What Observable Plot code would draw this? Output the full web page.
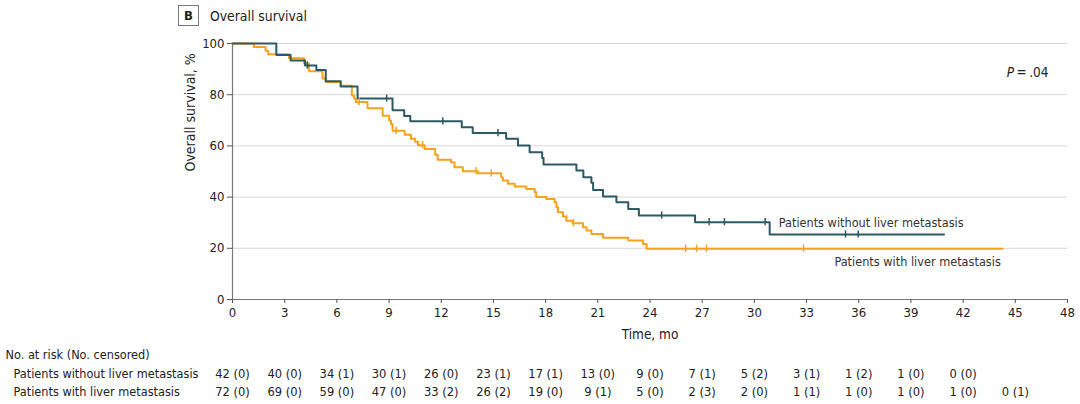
<!DOCTYPE html>
<html><head><meta charset="utf-8">
<script src="https://cdn.jsdelivr.net/npm/d3@7"></script>
<script src="https://cdn.jsdelivr.net/npm/@observablehq/plot@0.6"></script>
<style>
body{margin:0;background:#fff;}
#wrap{position:relative;width:1080px;height:404px;font-family:"DejaVu Sans Condensed","DejaVu Sans",sans-serif;color:#222;}
#title{position:absolute;left:178px;top:5px;display:flex;align-items:center;font-size:13.8px;}
#title .box{display:inline-block;width:19px;height:19px;border:1.5px solid #777;text-align:center;line-height:19px;font-weight:bold;font-size:13px;margin-right:11px;}
#chart{position:absolute;left:0;top:0;}
</style></head><body>
<div id="wrap"><div id="chart"></div><div id="title"><span class="box">B</span><span>Overall survival</span></div></div>
<script>
// Patients without liver metastasis (step times in months, survival %)
const withoutT = [0, 2.52, 3.34, 4.17, 4.82, 5.36, 6.22, 7.19, 9.20, 9.87, 10.22, 13.18, 13.81, 15.73, 16.41, 17.08, 17.80, 17.88, 19.77, 20.17, 20.63, 20.73, 21.30, 22.07, 22.75, 23.36, 26.59, 30.88];
const withoutS = [100, 95.5, 93.4, 91.4, 89.6, 85.3, 83.2, 78.5, 73.9, 71.7, 69.6, 67.3, 65.0, 62.8, 60.2, 57.5, 55.3, 52.7, 50.4, 47.8, 45.6, 42.8, 40.2, 38.0, 35.4, 32.8, 30.2, 25.4];
const withoutEnd = 40.9;
const withoutCens = [4.30, 8.86, 12.09, 15.26, 24.67, 27.40, 28.28, 30.62, 35.24, 35.97];

// Patients with liver metastasis
const withT = [0, 1.23, 1.90, 2.05, 3.25, 4.11, 4.40, 5.17, 5.36, 6.22, 6.86, 6.99, 7.09, 7.76, 8.63, 9.01, 9.11, 9.20, 9.90, 10.26, 10.50, 10.66, 11.05, 11.65, 11.79, 12.56, 12.76, 13.24, 14.10, 15.45, 15.54, 15.83, 16.22, 16.89, 17.37, 17.46, 18.04, 18.52, 18.62, 18.71, 19.00, 19.19, 19.55, 20.15, 20.35, 20.63, 21.30, 22.75, 23.60, 23.80];
const withS = [100, 98.6, 97.2, 95.8, 94.2, 92.2, 89.2, 86.3, 85.0, 83.5, 79.7, 78.4, 77.1, 74.7, 71.8, 69.9, 68.6, 65.9, 64.4, 62.8, 61.6, 60.3, 58.8, 56.5, 54.6, 53.6, 51.7, 50.1, 49.3, 47.8, 46.5, 45.2, 44.1, 43.2, 41.9, 40.0, 39.3, 38.0, 36.0, 34.1, 32.4, 30.8, 29.8, 28.2, 27.0, 25.6, 24.1, 23.0, 21.7, 19.8];
const withEnd = 44.27;
const withCens = [7.28, 9.40, 10.93, 14.00, 14.87, 19.60, 26.05, 26.68, 27.25, 32.83];

// Axis ticks
const xTicks = [0, 3, 6, 9, 12, 15, 18, 21, 24, 27, 30, 33, 36, 39, 42, 45, 48];
const yTicks = [0, 20, 40, 60, 80, 100];

// Risk table
const riskGroups = ["Patients without liver metastasis", "Patients with liver metastasis"];
const riskTimesWithout = [0, 3, 6, 9, 12, 15, 18, 21, 24, 27, 30, 33, 36, 39, 42];
const riskWithout = ["42 (0)", "40 (0)", "34 (1)", "30 (1)", "26 (0)", "23 (1)", "17 (1)", "13 (0)", "9 (0)", "7 (1)", "5 (2)", "3 (1)", "1 (2)", "1 (0)", "0 (0)"];
const riskTimesWith = [0, 3, 6, 9, 12, 15, 18, 21, 24, 27, 30, 33, 36, 39, 42, 45];
const riskWith = ["72 (0)", "69 (0)", "59 (0)", "47 (0)", "33 (2)", "26 (2)", "19 (0)", "9 (1)", "5 (0)", "2 (3)", "2 (0)", "1 (1)", "1 (0)", "1 (0)", "1 (0)", "0 (1)"];

// Curve labels
const curveLabels = [
  {text: "Patients without liver metastasis", t: 31.4, s: 29.8},
  {text: "Patients with liver metastasis", t: 34.6, s: 14.8}
];

const DARK = "#2d5966", ORANGE = "#f7a11c";
const FONT = '"DejaVu Sans Condensed","DejaVu Sans",sans-serif';
const FS = 12.6;

function steps(T, S, end) {
  const pts = T.map((t, i) => ({t, s: S[i]}));
  pts.push({t: end, s: S[S.length - 1]});
  return pts;
}
function survAt(T, S, t) {
  let s = S[0];
  for (let i = 0; i < T.length; i++) if (T[i] <= t) s = S[i];
  return s;
}
const withoutPts = steps(withoutT, withoutS, withoutEnd);
const withPts = steps(withT, withS, withEnd);
const cens = [
  ...withCens.map(t => ({t, s: survAt(withT, withS, t), c: ORANGE})),
  ...withoutCens.map(t => ({t, s: survAt(withoutT, withoutS, t), c: DARK}))
];
const row0 = riskTimesWithout.map((t, i) => ({t, text: riskWithout[i]}));
const row1 = riskTimesWith.map((t, i) => ({t, text: riskWith[i]}));

const txt = {fill: "#222", lineAnchor: "middle", fontSize: FS};

const chart = Plot.plot({
  width: 1080, height: 404,
  marginLeft: 232, marginRight: 13, marginTop: 43, marginBottom: 105,
  style: {fontFamily: FONT, fontSize: "13px", color: "#222", background: "#fff"},
  x: {domain: [0, 48]},
  y: {domain: [0, 100]},
  marks: [
    Plot.gridY(yTicks, {stroke: "#d8d8d8", strokeOpacity: 1, strokeWidth: 1}),
    Plot.ruleX([0], {stroke: "#7a7a7a", strokeWidth: 1.2}),
    Plot.ruleY([0], {stroke: "#7a7a7a", strokeWidth: 1.2}),
    Plot.axisX({ticks: xTicks, tickSize: 4, tickPadding: 4, label: null, stroke: "#555", fill: "#222", fontSize: 13}),
    Plot.axisY({ticks: yTicks, tickSize: 5, tickPadding: 3, label: null, stroke: "#555", fill: "#222", fontSize: 13}),
    Plot.line(withPts, {x: "t", y: "s", curve: "step-after", stroke: ORANGE, strokeWidth: 2}),
    Plot.line(withoutPts, {x: "t", y: "s", curve: "step-after", stroke: DARK, strokeWidth: 2}),
    Plot.ruleX(cens, {x: "t", y1: d => d.s - 1.4, y2: d => d.s + 1.4, stroke: "c", strokeWidth: 1.5}),
    Plot.text(curveLabels, {x: "t", y: "s", text: "text", textAnchor: "start", fill: "#333", fontSize: 12.6}),
    Plot.text(["Overall survival, %"], {...txt, frameAnchor: "left", rotate: -90, dx: -42, fontSize: 14}),
    Plot.text(["Time, mo"], {...txt, frameAnchor: "bottom", dy: 35, fontSize: 13.5}),
    Plot.text(["P\u2009=\u2009.04"], {...txt, frameAnchor: "top-right", dx: -19, dy: 29, fontSize: 13.5}),
    Plot.text(["No. at risk (No. censored)"], {...txt, frameAnchor: "bottom-left", dx: -227, dy: 55, textAnchor: "start"}),
    Plot.text([riskGroups[0]], {...txt, frameAnchor: "bottom-left", dx: -219, dy: 74, textAnchor: "start"}),
    Plot.text([riskGroups[1]], {...txt, frameAnchor: "bottom-left", dx: -219, dy: 92, textAnchor: "start"}),
    Plot.text(row0, {...txt, x: "t", frameAnchor: "bottom", dy: 74, text: "text", fontSize: 12.8}),
    Plot.text(row1, {...txt, x: "t", frameAnchor: "bottom", dy: 92, text: "text", fontSize: 12.8})
  ]
});
// italic P
d3.select(chart).selectAll("text").filter(function(){ return this.textContent === "P\u2009=\u2009.04"; })
  .each(function(){
    const t = d3.select(this); t.text(null);
    t.append("tspan").attr("font-style", "italic").text("P");
    t.append("tspan").text("\u2009=\u2009.04");
  });
document.getElementById("chart").appendChild(chart);
</script>
</body></html>
